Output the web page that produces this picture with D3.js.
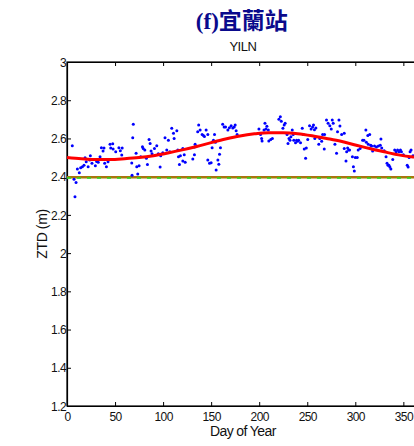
<!DOCTYPE html>
<html><head><meta charset="utf-8">
<script src="https://cdn.jsdelivr.net/npm/d3@7"></script>
<style>body{margin:0;background:#fff;overflow:hidden}svg{display:block}</style>
</head><body><div id="chart"></div>
<script>
const title = "(f)宜蘭站";
const subtitle = "YILN";
const xTicks = [0,50,100,150,200,250,300,350];
const yTicks = [1.2,1.4,1.6,1.8,2,2.2,2.4,2.6,2.8,3];
const yTickLabels = ["1.2","1.4","1.6","1.8","2","2.2","2.4","2.6","2.8","3"];
const refLevel = 2.397;
const obsDays = [5.5,7.3,8.3,9.4,10.8,12.8,14.2,16,17.7,18.8,20,22,23.6,24.3,26,29.5,30.9,32.5,34.4,35.8,37.5,38.5,39.2,41,42.7,44.8,45.5,47.6,48,50.7,54,55.5,57.4,57,67.4,67.7,68.4,69,71.9,72.6,73.6,75,76.7,78.5,79.3,81,82.6,83.7,85.4,86.5,87.5,88.5,91,93.4,95,96.9,97.5,99.7,102,103.8,105.5,107,109,110.8,111.5,114.3,115.3,116,117,118,120.5,120.5,122,123,130.9,132.6,132.6,133.3,136,137,138.5,140.6,142,143,144.8,146.5,146.5,148.3,150,151,152.4,153.5,154.5,155.2,157,158,158.7,159.7,162,163.5,165,167.4,169,170.8,172.5,174,175,176,177,199.7,201.4,202.5,203,205,206,207,208,209.5,210,212,213.7,220.5,222,223,224.7,226,227,229,230,231,232,233,234.4,235.4,236,237.8,238.9,240,241,243,244.8,246,246.9,248.3,249,250.5,252.4,254,255.5,256.5,257.5,257.9,259,262,263,265,266,267.7,268,270,271.7,273.5,275,276,277,278.8,280.5,281.5,283,284,285.8,288.5,288.5,290.3,291,292,293,294,297,298,299,300,302,303,305,307.6,309,311,311.5,313,313.5,315,316,317,318,320,322,324,326,326.7,327.5,330,332,333,334,335,336,337,339,341,342.5,344,345.5,347,348,350,354,355,356,357,358,360];
const obsZtd = [2.562,2.386,2.295,2.37,2.44,2.42,2.447,2.452,2.46,2.499,2.478,2.452,2.487,2.51,2.47,2.457,2.48,2.475,2.504,2.551,2.534,2.55,2.47,2.452,2.478,2.569,2.55,2.572,2.545,2.53,2.551,2.535,2.55,2.513,2.471,2.408,2.604,2.674,2.522,2.452,2.414,2.457,2.504,2.557,2.547,2.539,2.496,2.464,2.595,2.574,2.534,2.52,2.548,2.562,2.52,2.45,2.51,2.525,2.604,2.54,2.59,2.53,2.653,2.627,2.6,2.64,2.54,2.504,2.464,2.51,2.548,2.482,2.515,2.475,2.492,2.515,2.555,2.569,2.635,2.67,2.644,2.621,2.615,2.61,2.644,2.62,2.487,2.47,2.473,2.551,2.59,2.62,2.58,2.435,2.487,2.465,2.517,2.551,2.674,2.66,2.66,2.644,2.656,2.666,2.655,2.66,2.67,2.64,2.62,2.649,2.62,2.6,2.586,2.644,2.679,2.65,2.664,2.644,2.586,2.595,2.6,2.7,2.714,2.69,2.653,2.67,2.68,2.62,2.574,2.6,2.59,2.609,2.644,2.62,2.59,2.577,2.59,2.585,2.59,2.577,2.653,2.62,2.545,2.496,2.55,2.595,2.666,2.65,2.66,2.67,2.645,2.6,2.655,2.569,2.6,2.585,2.62,2.545,2.62,2.696,2.68,2.666,2.65,2.696,2.68,2.569,2.522,2.635,2.696,2.665,2.62,2.548,2.627,2.482,2.53,2.55,2.54,2.54,2.504,2.452,2.43,2.5,2.5,2.54,2.548,2.59,2.59,2.644,2.58,2.615,2.57,2.62,2.565,2.56,2.534,2.56,2.555,2.56,2.565,2.597,2.55,2.535,2.504,2.47,2.46,2.46,2.45,2.44,2.49,2.54,2.53,2.54,2.53,2.54,2.53,2.515,2.46,2.45,2.5,2.53,2.54,2.51];
const fitDays = [0,15,30,45,60,75,90,105,120,135,150,165,180,195,210,225,240,255,270,285,300,315,330,345,360,366];
const fitZtd = [2.5,2.494,2.49,2.49,2.494,2.5,2.51,2.524,2.54,2.558,2.578,2.597,2.613,2.624,2.63,2.63,2.625,2.614,2.6,2.585,2.566,2.547,2.53,2.514,2.503,2.5];

const W = 414, H = 446;
const plotLeft = 67, plotTop = 62, plotBottom = 406;
const svg = d3.select("#chart").append("svg").attr("width", W).attr("height", H);
const x = d3.scaleLinear().domain([0, 366]).range([plotLeft, plotLeft + 0.961 * 366]);
const y = d3.scaleLinear().domain([1.2, 3]).range([plotBottom, plotTop]);
const plotRight = x(366);
const font = "'Liberation Sans', Arial, sans-serif";

// plot box
svg.append("rect").attr("x", plotLeft).attr("y", plotTop).attr("width", plotRight - plotLeft).attr("height", plotBottom - plotTop)
  .attr("fill", "#fff").attr("stroke", "#000").attr("stroke-width", 1.2);

// axes with inward ticks
const xb = svg.append("g").attr("transform", `translate(0,${plotBottom})`)
  .call(d3.axisBottom(x).tickValues(xTicks).tickSizeInner(-4).tickSizeOuter(0).tickPadding(6).tickFormat(d3.format("d")));
const xt = svg.append("g").attr("transform", `translate(0,${plotTop})`)
  .call(d3.axisTop(x).tickValues(xTicks).tickSizeInner(-4).tickSizeOuter(0).tickFormat(""));
const yl = svg.append("g").attr("transform", `translate(${plotLeft},0)`)
  .call(d3.axisLeft(y).tickValues(yTicks).tickSizeInner(-4).tickSizeOuter(0).tickPadding(1)
    .tickFormat((d, i) => yTickLabels[i]));
[xb, xt, yl].forEach(g => {
  g.select(".domain").attr("stroke", "#000").attr("stroke-width", 1.2);
  g.selectAll(".tick line").attr("stroke", "#000");
  g.selectAll("text").attr("font-family", font).attr("font-size", 12).attr("fill", "#111").attr("letter-spacing", -0.6);
});
yl.selectAll("text").attr("dy", "0.35em");

// reference level lines
svg.append("line").attr("x1", plotLeft).attr("x2", plotRight).attr("y1", y(refLevel)).attr("y2", y(refLevel))
  .attr("stroke", "#a8760c").attr("stroke-width", 2.4);
svg.append("line").attr("x1", plotLeft).attr("x2", plotRight).attr("y1", y(refLevel) + 0.8).attr("y2", y(refLevel) + 0.8)
  .attr("stroke", "#22dd22").attr("stroke-width", 1.4).attr("stroke-dasharray", "4,6");

// points
svg.append("g").selectAll("circle").data(obsDays.map((d, i) => [d, obsZtd[i]])).join("circle")
  .attr("cx", d => x(d[0])).attr("cy", d => y(d[1])).attr("r", 1.5).attr("fill", "#0000ff");

// fitted curve
const line = d3.line().x(d => x(d[0])).y(d => y(d[1])).curve(d3.curveMonotoneX);
svg.append("path").datum(fitDays.map((d, i) => [d, fitZtd[i]])).attr("d", line)
  .attr("fill", "none").attr("stroke", "#ff0000").attr("stroke-width", 3);

// titles
const cx = (plotLeft + plotRight) / 2;
svg.append("text").attr("x", cx - 1).attr("y", 29).attr("text-anchor", "middle")
  .attr("font-weight", "bold").attr("font-size", 23).attr("fill", "#0a0a8c")
  .call(t => {
    t.append("tspan").attr("font-family", "'Liberation Serif', 'DejaVu Serif', serif").text(title.slice(0, 3));
    t.append("tspan").attr("font-family", "'Noto Sans CJK TC', 'Noto Sans CJK SC', sans-serif").text(title.slice(3));
  });
svg.append("text").attr("x", cx).attr("y", 51).attr("text-anchor", "middle")
  .attr("font-family", font).attr("font-size", 13).attr("fill", "#111").attr("letter-spacing", -0.5).text(subtitle);
svg.append("text").attr("x", cx).attr("y", 436).attr("text-anchor", "middle")
  .attr("font-family", font).attr("font-size", 14).attr("fill", "#111").attr("letter-spacing", -0.6).text("Day of Year");
svg.append("text").attr("transform", `translate(47,${(plotTop + plotBottom) / 2}) rotate(-90)`).attr("text-anchor", "middle")
  .attr("font-family", font).attr("font-size", 14).attr("fill", "#111").attr("letter-spacing", -0.4).text("ZTD (m)");
</script></body></html>
